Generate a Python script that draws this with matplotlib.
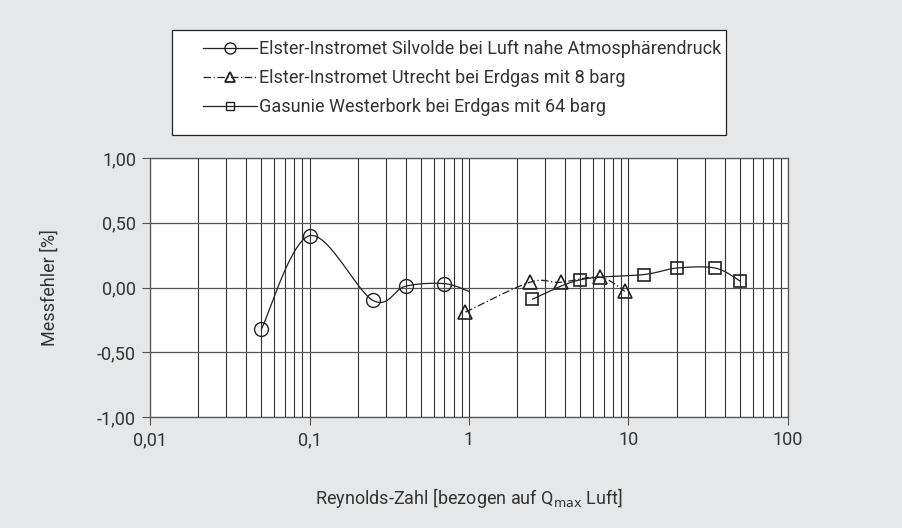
import numpy as np
import matplotlib.pyplot as plt
from matplotlib.lines import Line2D
from matplotlib.patches import Rectangle

# data
re_silvolde = [0.05, 0.1, 0.25, 0.4, 0.7, 1.0]
err_silvolde = [-0.32, 0.40, -0.10, 0.01, 0.03, -0.03]
re_utrecht = [0.95, 2.4, 3.75, 6.6, 9.5]
err_utrecht = [-0.19, 0.04, 0.04, 0.08, -0.03]
re_westerbork = [2.5, 5.0, 12.5, 20.0, 35.0, 50.0]
err_westerbork = [-0.09, 0.06, 0.10, 0.15, 0.15, 0.05]

labels = ['Elster-Instromet Silvolde bei Luft nahe Atmosphärendruck',
          'Elster-Instromet Utrecht bei Erdgas mit 8 barg',
          'Gasunie Westerbork bei Erdgas mit 64 barg']

plt.rcParams['font.family'] = ['Roboto', 'DejaVu Sans']


def smooth(xs, ys, n=40):
    # excel style smoothed line (cubic bezier, catmull-rom tangents) in log-x space
    p = np.column_stack([np.log10(xs), ys])
    out = []
    for i in range(len(p) - 1):
        p0 = p[max(i - 1, 0)]
        p1 = p[i]
        p2 = p[i + 1]
        p3 = p[min(i + 2, len(p) - 1)]
        c1 = p1 + (p2 - p0) / 6
        c2 = p2 - (p3 - p1) / 6
        t = np.linspace(0, 1, n)[:, None]
        seg = (1 - t)**3 * p1 + 3 * (1 - t)**2 * t * c1 + 3 * (1 - t) * t**2 * c2 + t**3 * p2
        out.append(seg)
    out = np.vstack(out)
    return 10**out[:, 0], out[:, 1]


bg = '#e6e7e8'
ink = '#222'
txt = '#333'
fs = 13
fig = plt.figure(figsize=(9.03, 5.28), dpi=100, facecolor=bg)
ax = fig.add_axes([150/903, 1-417/528, 638/903, 259/528])
ax.set_facecolor('white')

lw = 0.9
dashdot = (0, (6, 2, 1, 2))
sx, sy = smooth(re_silvolde, err_silvolde)
ax.plot(sx, sy, color=ink, lw=lw)
ax.plot(re_silvolde[:-1], err_silvolde[:-1], 'o', mfc='none', mec=ink, ms=10, mew=1.0)

sx, sy = smooth(re_utrecht, err_utrecht)
ax.plot(sx, sy, color=ink, lw=lw, ls=dashdot)
ax.plot(re_utrecht, err_utrecht, '^', mfc='none', mec=ink, ms=9.5, mew=1.2)

sx, sy = smooth(re_westerbork, err_westerbork)
ax.plot(sx, sy, color=ink, lw=lw)
ax.plot(re_westerbork, err_westerbork, 's', mfc='none', mec=ink, ms=8, mew=1.2)

ax.set_xscale('log')
ax.set_xlim(0.01, 100)
ax.set_ylim(-1, 1)
ax.set_yticks([-1, -0.5, 0, 0.5, 1])
ax.set_yticklabels(['-1,00', '-0,50', '0,00', '0,50', '1,00'])
ax.set_xticks([0.01, 0.1, 1, 10, 100])
ax.set_xticklabels(['0,01', '0,1', '1', '10', '100'])
ax.tick_params(axis='x', which='minor', length=0)
ax.tick_params(axis='both', which='major', length=6, color='#555', labelsize=fs, labelcolor=txt, pad=4)
ax.grid(True, which='both', axis='x', color='#333', lw=0.8)
ax.grid(True, which='major', axis='y', color='#555', lw=0.9)
ax.set_axisbelow(True)
for s in ax.spines.values():
    s.set_color('#555')
    s.set_linewidth(0.9)

ax.set_ylabel('Messfehler [%]', fontsize=fs, color=txt, labelpad=28)
ax.set_xlabel(r'Reynolds-Zahl [bezogen auf Q$_{\mathrm{max}}$ Luft]', fontsize=fs, color=txt, labelpad=27)

# legend box
fig.patches.append(Rectangle((172/903, 1-135/528), 554/903, 105/528, transform=fig.transFigure,
                             facecolor='white', edgecolor=ink, lw=0.9, zorder=1))
handles = [Line2D([], [], color=ink, lw=lw, marker='o', mfc='none', mec=ink, ms=8),
           Line2D([], [], color=ink, lw=lw, ls=dashdot, marker='^', mfc='none', mec=ink, ms=7, mew=1.3),
           Line2D([], [], color=ink, lw=lw, marker='s', mfc='none', mec=ink, ms=6)]
leg = fig.legend(handles, labels, loc='upper left', bbox_to_anchor=(203/903, 1-40/528),
                 fontsize=fs, frameon=False, handlelength=3.0, handletextpad=0.1,
                 labelspacing=0.62, borderpad=0, borderaxespad=0)
for t in leg.get_texts():
    t.set_color(txt)

fig.savefig('out.png', dpi=100, facecolor=bg)
